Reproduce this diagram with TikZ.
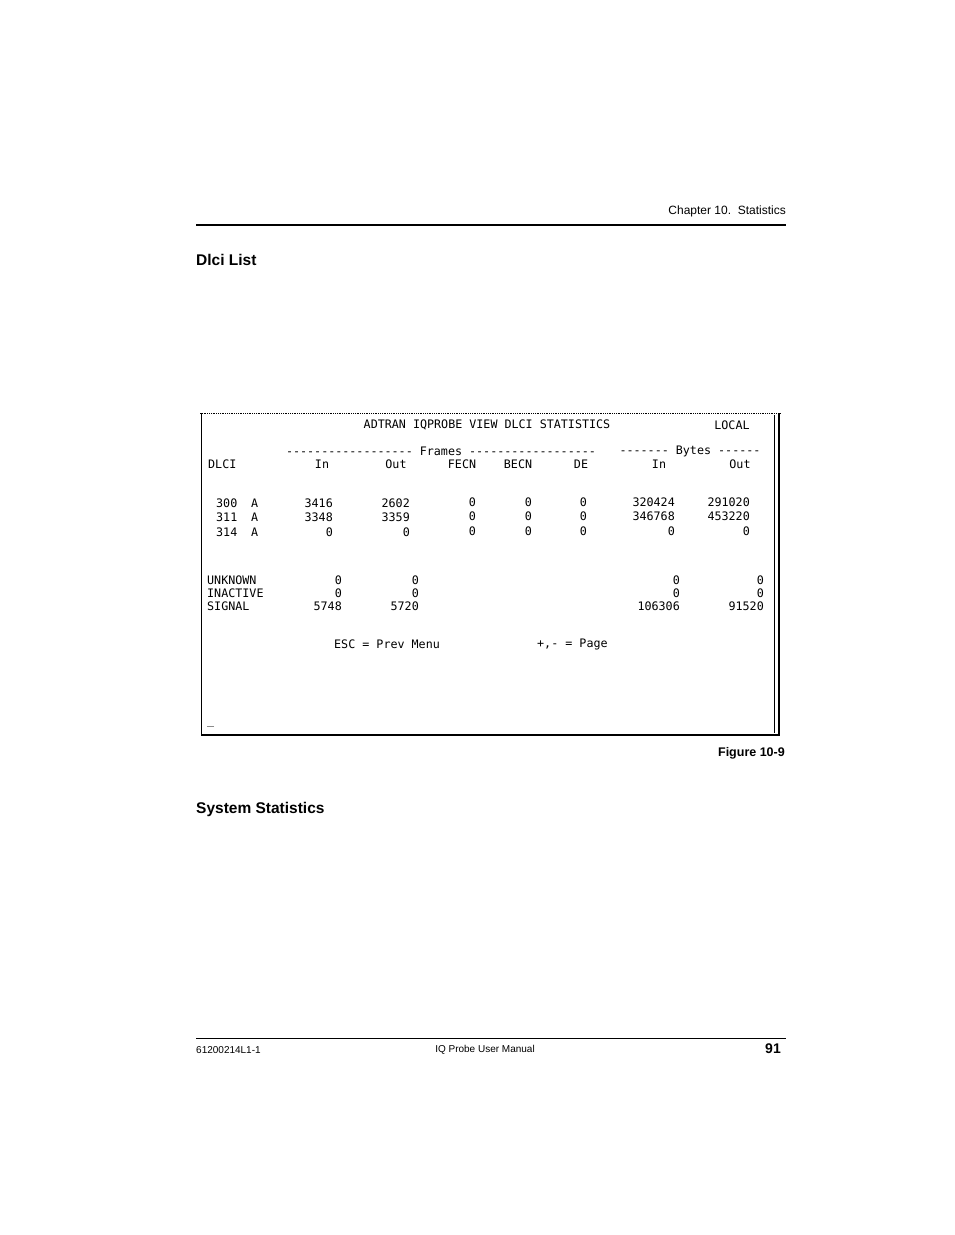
\documentclass[tikz,border=0pt]{standalone}
\usepackage{fontspec}
\setmainfont{Liberation Sans}
\newfontfamily\scr{DejaVu Sans Mono}
\begin{document}
\begin{tikzpicture}[x=1pt,y=-1pt,
 t/.style={font=\scr\fontsize{11.7}{13}\selectfont,inner sep=0pt},
 pg/.style={font=\fontsize{12}{14}\selectfont,inner sep=0pt},
 hd/.style={font=\bfseries\fontsize{15.5}{17}\selectfont,inner sep=0pt,anchor=west}]
\useasboundingbox (0,0) rectangle (954,1235);
\node[pg,anchor=east] (ch) at (786,211) {Chapter 10.\ \ Statistics};
\draw[line width=1.3pt] (196,225) -- (786,225);
\node[hd] (h1) at (196,260) {Dlci List};
% screen
\draw[line width=0.8pt,densely dotted] (200,413) -- (780,413);
\draw[line width=1pt] (201,413) -- (201,736);
\draw[line width=1pt] (774,415) -- (774,733);
\draw[line width=2pt] (779,413) -- (779,736);
\draw[line width=2pt] (201,735) -- (780,735);
\node[t] (title) at (487,425) {ADTRAN IQPROBE VIEW DLCI STATISTICS};
\node[t] (loc) at (732,425) {LOCAL};
\node[t] (fr) at (441,451) {------------------ Frames ------------------};
\node[t] (by) at (690,451) {------- Bytes ------};
\node[t,anchor=west] (dl) at (208,464) {DLCI};
\foreach \x/\s [count=\i] in {322/In,396/Out,462/FECN,518/BECN,581/DE,659/In,740/Out}
  \node[t] (c\i) at (\x,464) {\s};
\foreach \y/\a/\b/\c/\d/\e/\f/\g [count=\i] in {503/300/3416/2602/0/320424/291020,517/311/3348/3359/0/346768/453220,532/314/0/0/0/0/0}{
  \node[t,anchor=west] (r\i) at (216,\y) {\a};
  \node[t,anchor=west] (ra\i) at (251,\y) {A};
  \node[t,anchor=east] (rb\i) at (333,\y) {\b};
  \node[t,anchor=east] (rc\i) at (410,\y) {\c};
  \node[t,anchor=east] (rd\i) at (476,\y-1) {0};
  \node[t,anchor=east] (re\i) at (532,\y-1) {0};
  \node[t,anchor=east] (rf\i) at (587,\y-1) {0};
  \node[t,anchor=east] (rg\i) at (675,\y-1) {\e};
  \node[t,anchor=east] (rh\i) at (750,\y-1) {\f};
}
\foreach \y/\n/\a/\b/\c/\d [count=\i] in {580/UNKNOWN/0/0/0/0,593/INACTIVE/0/0/0/0,606/SIGNAL/5748/5720/106306/91520}{
  \node[t,anchor=west] (s\i) at (207,\y) {\n};
  \node[t,anchor=east] (sa\i) at (342,\y) {\a};
  \node[t,anchor=east] (sb\i) at (419,\y) {\b};
  \node[t,anchor=east] (sc\i) at (680,\y) {\c};
  \node[t,anchor=east] (sd\i) at (764,\y) {\d};
}
\node[t,anchor=west] (esc) at (334,644) {ESC = Prev Menu};
\node[t,anchor=west] (pgk) at (537,644) {+,- = Page};
\node[t,anchor=west] (cur) at (207,726) {\_};
\node[pg,anchor=east,font=\bfseries\fontsize{12.5}{14}\selectfont] (fig) at (785,753) {Figure 10-9};
\node[hd] (h2) at (196,809) {System Statistics};
\draw[line width=0.8pt] (196,1038) -- (786,1038);
\node[pg,anchor=west,font=\fontsize{10}{12}\selectfont] (f1) at (196,1050) {61200214L1-1};
\node[pg,font=\fontsize{10}{12}\selectfont] (f2) at (485,1050) {IQ Probe User Manual};
\node[pg,anchor=east,font=\bfseries\fontsize{14}{16}\selectfont] (f3) at (781,1049) {91};
\end{tikzpicture}
\end{document}
